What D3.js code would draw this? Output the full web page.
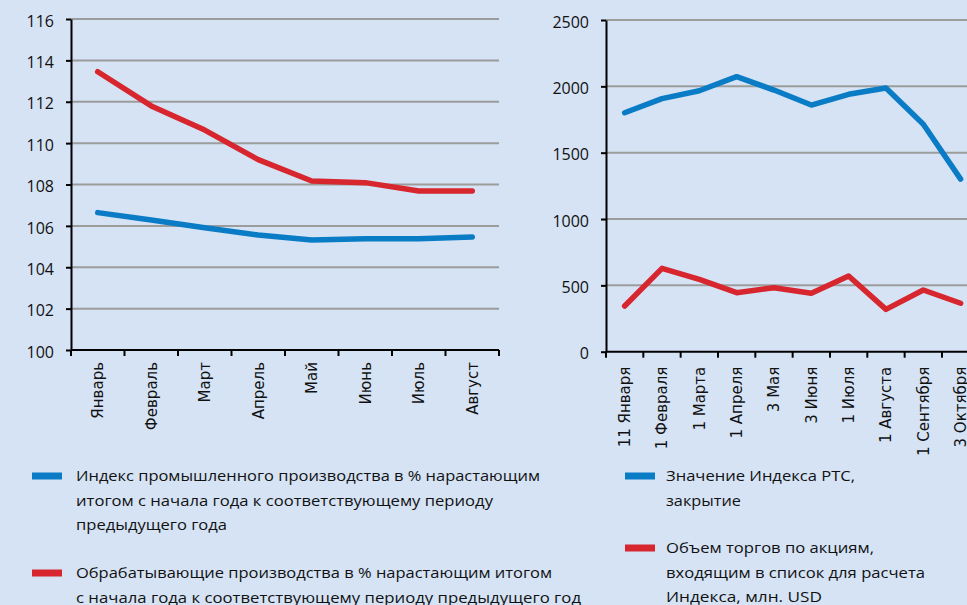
<!DOCTYPE html>
<html lang="ru">
<head>
<meta charset="utf-8">
<script src="https://cdn.jsdelivr.net/npm/d3@7"></script>
<style>
  html, body { margin: 0; padding: 0; background: #d5e3f5; }
  svg { display: block; }
</style>
</head>
<body>
<svg id="chart" width="967" height="605"></svg>
<script>
// Промышленное производство, % к соответствующему периоду предыдущего года
const months = ["Январь", "Февраль", "Март", "Апрель", "Май", "Июнь", "Июль", "Август"];
const industryIndex = [106.64, 106.28, 105.91, 105.56, 105.32, 105.38, 105.38, 105.46];
const manufacturing = [113.45, 111.8, 110.63, 109.2, 108.17, 108.09, 107.69, 107.69];
const leftTicks = [100, 102, 104, 106, 108, 110, 112, 114, 116];

// Индекс РТС и объём торгов
const dates = ["11 Января", "1 Февраля", "1 Марта", "1 Апреля", "3 Мая", "3 Июня", "1 Июля", "1 Августа", "1 Сентября", "3 Октября"];
const rtsClose = [1801, 1907, 1967, 2073, 1972, 1859, 1940, 1987, 1714, 1301];
const tradeVolume = [344, 628, 545, 445, 482, 440, 570, 319, 465, 365];
const rightTicks = [0, 500, 1000, 1500, 2000, 2500];

const legendLeft = [
  { color: "#0a7cc6", lines: ["Индекс промышленного производства в % нарастающим",
                              "итогом с начала года к соответствующему периоду",
                              "предыдущего года"], widths: [464, 417, 151], y: 481 },
  { color: "#d7262e", lines: ["Обрабатывающие производства в % нарастающим итогом",
                              "с начала года к соответствующему периоду предыдущего год"], widths: [476, 505], y: 578 }
];
const legendRight = [
  { color: "#0a7cc6", lines: ["Значение Индекса РТС,", "закрытие"], widths: [189, 75], y: 481 },
  { color: "#d7262e", lines: ["Объем торгов по акциям,", "входящим в список для расчета", "Индекса, млн.  USD"], widths: [208, 259, 156], y: 553 }
];

const BLUE = "#0a7cc6", RED = "#d7262e", GRID = "#9c9c9c";
const svg = d3.select("#chart");

function panel(opts) {
  const g = svg.append("g");
  const x = d3.scaleBand().domain(opts.cats).range(opts.xRange).padding(0);
  const y = d3.scaleLinear().domain(opts.yDomain).range(opts.yRange);

  // horizontal gridlines
  g.append("g").selectAll("line").data(opts.ticks.slice(1)).join("line")
    .attr("x1", opts.xRange[0]).attr("x2", opts.gridRight)
    .attr("y1", d => y(d)).attr("y2", d => y(d))
    .attr("stroke", GRID).attr("stroke-width", 2);

  // y axis
  const ya = g.append("g").attr("transform", `translate(${opts.xRange[0]},0)`)
    .call(d3.axisLeft(y).tickValues(opts.ticks).tickFormat(d3.format("d"))
      .tickSize(5).tickPadding(12).tickSizeOuter(0));
  ya.select(".domain").attr("stroke", "#000").attr("stroke-width", 2);
  ya.selectAll(".tick line").attr("stroke", "#000").attr("stroke-width", 2);
  ya.selectAll(".tick text")
    .attr("font-family", "'Open Sans', sans-serif").attr("font-size", 16)
    .attr("fill", "#111").attr("dy", "0.45em");

  // x axis: ticks on category boundaries
  const y0 = opts.yRange[0];
  const edges = d3.range(opts.cats.length + 1).map(i => opts.xRange[0] + i * x.step());
  g.append("line").attr("x1", opts.xRange[0]).attr("x2", opts.xRange[1])
    .attr("y1", y0).attr("y2", y0).attr("stroke", "#000").attr("stroke-width", 2);
  g.append("g").selectAll("line").data(edges).join("line")
    .attr("x1", d => d).attr("x2", d => d)
    .attr("y1", y0).attr("y2", y0 + 6)
    .attr("stroke", "#000").attr("stroke-width", 2);
  g.append("g").selectAll("text").data(opts.cats).join("text")
    .attr("transform", d => `translate(${x(d) + x.bandwidth() / 2},${y0 + opts.labelGap}) rotate(-90)`)
    .attr("text-anchor", "end").attr("dy", "0.35em")
    .attr("font-family", "'DejaVu Sans', sans-serif").attr("font-size", 15)
    .attr("fill", "#111").text(d => d);

  // series lines
  const line = d3.line()
    .x((d, i) => x(opts.cats[i]) + x.bandwidth() / 2)
    .y(d => y(d));
  opts.series.forEach(s => {
    g.append("path").datum(s.values).attr("d", line)
      .attr("fill", "none").attr("stroke", s.color)
      .attr("stroke-width", 5.5).attr("stroke-linejoin", "round").attr("stroke-linecap", "round");
  });
}

panel({
  cats: months, xRange: [71, 499], gridRight: 499,
  yDomain: [100, 116], yRange: [350, 19], ticks: leftTicks, labelGap: 12,
  series: [{ values: industryIndex, color: BLUE }, { values: manufacturing, color: RED }]
});

panel({
  cats: dates, xRange: [606, 606 + 37.33 * 10], gridRight: 967,
  yDomain: [0, 2500], yRange: [351.7, 20], ticks: rightTicks, labelGap: 15,
  series: [{ values: rtsClose, color: BLUE }, { values: tradeVolume, color: RED }]
});

// legends
function legend(items, swatchX, textX) {
  items.forEach(it => {
    svg.append("rect").attr("x", swatchX).attr("y", it.y - 8.5)
      .attr("width", 30).attr("height", 7).attr("fill", it.color);
    it.lines.forEach((t, i) => {
      svg.append("text").attr("x", textX).attr("y", it.y + i * 24.5)
        .attr("font-family", "'Open Sans', sans-serif").attr("font-size", 15)
        .attr("fill", "#111")
        .attr("textLength", it.widths[i]).attr("lengthAdjust", "spacingAndGlyphs")
        .text(t);
    });
  });
}
legend(legendLeft, 32, 76);
legend(legendRight, 625, 666);
</script>
</body>
</html>
